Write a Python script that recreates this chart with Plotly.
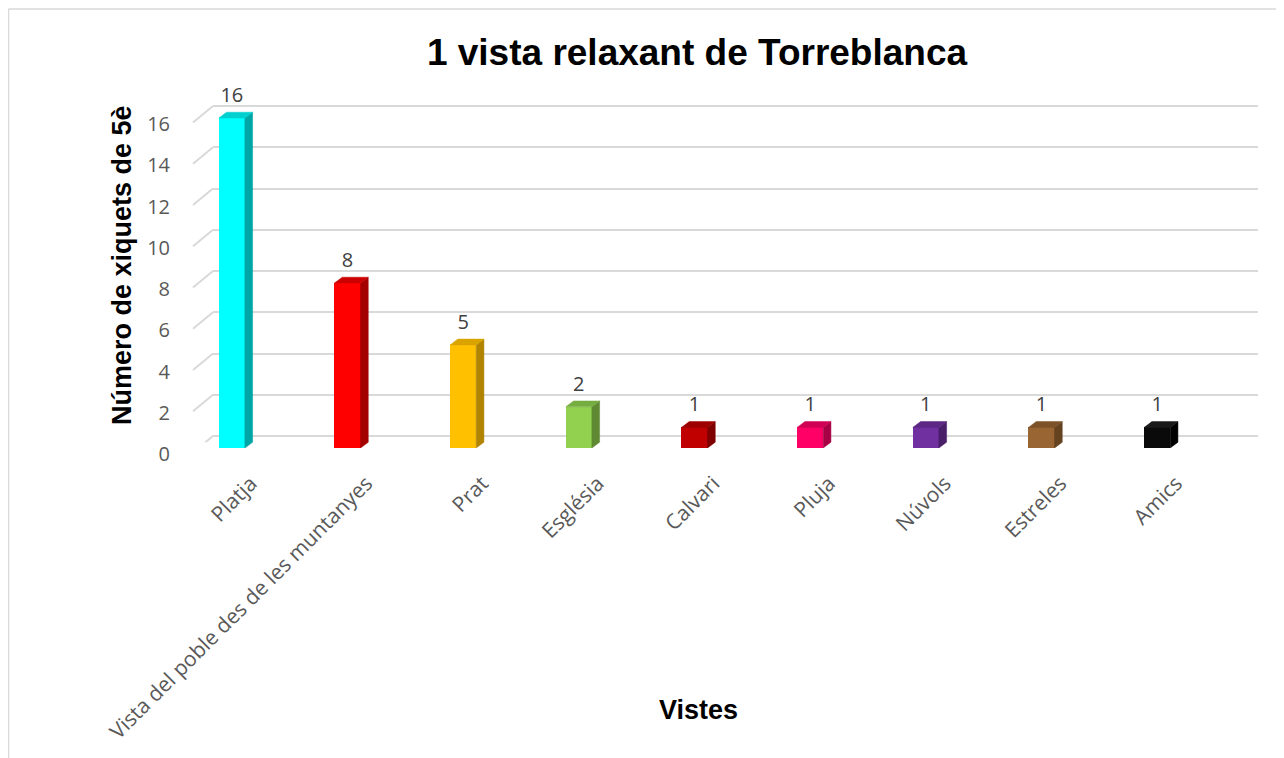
import plotly.graph_objects as go

# ---- data ----
categories = ["Platja", "Vista del poble des de les muntanyes", "Prat", "Església",
              "Calvari", "Pluja", "Núvols", "Estreles", "Amics"]
values = [16, 8, 5, 2, 1, 1, 1, 1, 1]
front_colors = ["#00FFFF", "#FF0000", "#FFC000", "#92D050", "#C00000",
                "#FF0066", "#7030A0", "#996633", "#0A0A0A"]
side_colors = ["#00A5A5", "#A30000", "#B08400", "#5F8A33", "#7E0000",
               "#A80044", "#4A1F6A", "#654321", "#000000"]
top_colors = ["#00CFCF", "#CC0000", "#D9A300", "#76AD40", "#9E0000",
              "#D00055", "#5C2785", "#7D5229", "#1A1A1A"]
y_ticks = [0, 2, 4, 6, 8, 10, 12, 14, 16]

W, H = 1284, 758
OFF = 8  # page body margin
def px(x):
    return (x - OFF) / W
def py(y):
    return 1 - (y - OFF) / H

FONT_TXT = "Open Sans"
GREY = "#595959"
GRID = "#D9D9D9"
UNIT = 20.625  # pixels per value unit

fig = go.Figure()

# grid layer subplot (x, y)
fig.add_trace(go.Scatter(x=[0], y=[0], mode="markers", marker=dict(opacity=0),
                         hoverinfo="skip", showlegend=False, xaxis="x", yaxis="y"))

# bars (front faces)
bar_w = 0.225
half = bar_w / 2
dx, dy = 0.067, 0.28
fig.add_trace(go.Bar(x=list(range(len(categories))), y=values, width=bar_w,
                     marker=dict(color=front_colors, line=dict(width=0)),
                     showlegend=False, hoverinfo="skip", xaxis="x2", yaxis="y2"))

# 3D side and top faces computed from the data
for i, v in enumerate(values):
    sx = [i + half, i + half + dx, i + half + dx, i + half, i + half]
    sy = [0, dy, v + dy, v, 0]
    fig.add_trace(go.Scatter(x=sx, y=sy, mode="lines", fill="toself",
                             fillcolor=side_colors[i], line=dict(width=0.5, color=side_colors[i]),
                             hoverinfo="skip", showlegend=False, xaxis="x2", yaxis="y2"))
    tx = [i - half, i - half + dx, i + half + dx, i + half, i - half]
    ty = [v, v + dy, v + dy, v, v]
    fig.add_trace(go.Scatter(x=tx, y=ty, mode="lines", fill="toself",
                             fillcolor=top_colors[i], line=dict(width=0.5, color=top_colors[i]),
                             hoverinfo="skip", showlegend=False, xaxis="x2", yaxis="y2"))

# value labels
fig.add_trace(go.Scatter(x=list(range(len(categories))), y=[v + 1.02 for v in values],
                         mode="text", text=[str(v) for v in values],
                         textfont=dict(family=FONT_TXT, size=20, color="#404040"),
                         textposition="middle center", cliponaxis=False,
                         hoverinfo="skip", showlegend=False, xaxis="x2", yaxis="y2"))

shapes = []
# diagonal floor/wall edges of the gridlines
for t in y_ticks:
    shapes.append(dict(type="line", xref="paper", yref="y", x0=px(213), x1=px(193),
                       y0=t, y1=t - 0.8, line=dict(color=GRID, width=2), layer="below"))
# chart border (cropped)
shapes.append(dict(type="line", xref="paper", yref="paper", x0=px(8.5), x1=1,
                   y0=py(9), y1=py(9), line=dict(color=GRID, width=1.5)))
shapes.append(dict(type="line", xref="paper", yref="paper", x0=px(8.5), x1=px(8.5),
                   y0=0, y1=py(9), line=dict(color=GRID, width=1.5)))

PAD = 0.3
fig.update_layout(
    width=W, height=H,
    margin=dict(l=0, r=0, t=0, b=0, autoexpand=False),
    paper_bgcolor="white", plot_bgcolor="rgba(0,0,0,0)",
    title=dict(text="<b>1 vista relaxant de Torreblanca</b>", x=px(697), y=py(52),
               xanchor="center", yanchor="middle", automargin=False,
               font=dict(family="Liberation Sans", size=37, color="black")),
    xaxis=dict(domain=[px(213), px(1258)], range=[0, 1], showgrid=False, zeroline=False,
               showticklabels=False, showline=False, anchor="y", automargin=False),
    yaxis=dict(domain=[py(436 + PAD * UNIT), py(106 - PAD * UNIT)], range=[-PAD, 16 + PAD],
               tickvals=y_ticks,
               showgrid=True, gridcolor=GRID, gridwidth=2, zeroline=False, showline=False,
               ticks="", ticklabelshift=18, ticklabelstandoff=42, automargin=False,
               tickfont=dict(family=FONT_TXT, size=20, color=GREY), anchor="x"),
    xaxis2=dict(domain=[px(174), px(1215)], range=[-0.5, 8.5],
                tickvals=list(range(len(categories))), ticktext=categories,
                tickangle=-45, ticklabelshift=19, ticklabelstandoff=18, automargin=False,
                tickfont=dict(family=FONT_TXT, size=21, color=GREY),
                showgrid=False, zeroline=False, showline=False, ticks="", anchor="y2"),
    yaxis2=dict(domain=[py(448), py(90)], range=[0, (448 - 90) / UNIT],
                visible=False, anchor="x2", automargin=False),
    shapes=shapes,
    annotations=[
        dict(text="<b>Número de xiquets de 5è</b>", xref="paper", yref="paper",
             x=px(122), y=py(265), textangle=-90, showarrow=False,
             xanchor="center", yanchor="middle",
             font=dict(family="Liberation Sans", size=27, color="black")),
        dict(text="<b>Vistes</b>", xref="paper", yref="paper",
             x=px(698), y=py(710), showarrow=False, xanchor="center", yanchor="middle",
             font=dict(family="Liberation Sans", size=27, color="black")),
    ],
    bargap=0,
)

fig.write_html("out.html")
